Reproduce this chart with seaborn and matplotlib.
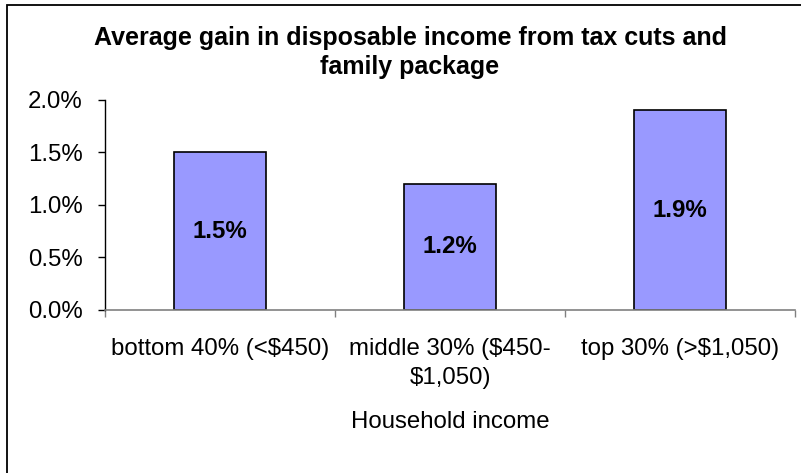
import matplotlib
matplotlib.use("Agg")
import matplotlib.pyplot as plt
import seaborn as sns
import pandas as pd
from matplotlib.patches import Rectangle
from matplotlib.ticker import FuncFormatter, FixedLocator

# Data
categories = ["bottom 40% (<$450)", "middle 30% ($450-\n$1,050)", "top 30% (>$1,050)"]
gains = [1.5, 1.2, 1.9]
y_ticks = [0.0, 0.5, 1.0, 1.5, 2.0]

df = pd.DataFrame({"group": categories, "gain": gains})

sns.set_theme(style="white")
plt.rcParams["font.family"] = ["Liberation Sans", "DejaVu Sans"]

FS = 17.3

fig = plt.figure(figsize=(8.01, 4.73), dpi=100)
W, H = 801, 473
ax = fig.add_axes([105 / W, 1 - 310 / H, (795 - 105) / W, (310 - 99.5) / H])

sns.barplot(data=df, x="group", y="gain", color="#9999FF", saturation=1,
            edgecolor="black", linewidth=1.2, width=0.4, ax=ax)

# value labels centred in the bars
for i, v in enumerate(gains):
    ax.text(i, v / 2, f"{v:.1f}%", ha="center", va="center",
            fontsize=FS, fontweight="bold", color="black")

ax.set_ylim(0, 2.0)
ax.set_xlim(-0.5, 2.5)
ax.yaxis.set_major_locator(FixedLocator(y_ticks))
ax.yaxis.set_major_formatter(FuncFormatter(lambda v, _: f"{v:.1f}%"))

# category boundaries get tick marks, labels sit between them
ax.set_xticks([0, 1, 2])
ax.set_xticklabels(categories, linespacing=1.45)
ax.set_xticks([-0.5, 0.5, 1.5, 2.5], minor=True)
ax.tick_params(axis="x", which="major", length=0, pad=20, labelsize=FS, colors="black")
ax.tick_params(axis="x", which="minor", length=5, width=1, color="#808080", direction="out", bottom=True)
ax.tick_params(axis="y", which="major", length=5, width=1, color="black", direction="out",
               left=True, pad=11, labelsize=FS, labelcolor="black")

for side in ["top", "right"]:
    ax.spines[side].set_visible(False)
ax.spines["left"].set_color("black")
ax.spines["left"].set_linewidth(1)
ax.spines["bottom"].set_color("#808080")
ax.spines["bottom"].set_linewidth(1.2)

ax.set_ylabel("")
ax.set_xlabel("Household income", fontsize=FS, color="black")
ax.xaxis.set_label_coords(0.5, (310 - 422) / (310 - 99.5))
ax.xaxis.label.set_va("center")

fig.text(410 / W, 1 - 52.5 / H,
         "Average gain in disposable income from tax cuts and\nfamily package",
         ha="center", va="center", fontsize=18, fontweight="bold",
         linespacing=1.3, color="black")

# outer chart frame
fig.patches.append(Rectangle((7 / W, -0.05), 1.2, 1.05 - 5 / H,
                             transform=fig.transFigure, fill=False,
                             edgecolor="black", linewidth=1.3))

fig.savefig("out.png", dpi=100, facecolor="white")
